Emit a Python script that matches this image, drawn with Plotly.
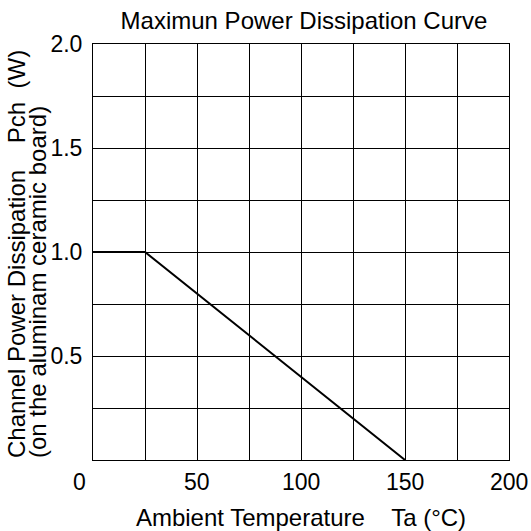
import plotly.graph_objects as go

# Data
temp_c = [0, 25, 150]
power_w = [1.0, 1.0, 0.0]

x_tick_vals = [0, 50, 100, 150, 200]
x_tick_text = ["0", "50", "100", "150", "200"]
y_tick_vals = [0.5, 1.0, 1.5, 2.0]
y_tick_text = ["0.5", "1.0", "1.5", "2.0"]

title_text = "Maximun Power Dissipation Curve"
x_title = "Ambient Temperature    Ta (°C)"
y_title_lines = ["Channel Power Dissipation    Pch  (W)", "(on the aluminam ceramic board)"]

FONT = "Liberation Sans, Arial, sans-serif"
FS = 24
TFS = 23
W = H = 531

fig = go.Figure()
fig.add_trace(go.Scatter(x=temp_c, y=power_w, mode="lines",
                         line=dict(color="black", width=2), showlegend=False,
                         cliponaxis=False, hoverinfo="skip"))

fig.update_layout(
    width=W, height=H,
    margin=dict(l=93, r=22, t=44, b=71, autoexpand=False),
    paper_bgcolor="white", plot_bgcolor="white",
    font=dict(family=FONT, size=FS, color="black"),
    title=dict(text=title_text, x=304 / W, xanchor="center",
               xref="container", y=1 - 21 / H, yanchor="middle", yref="container",
               font=dict(size=FS)),
)

fig.update_xaxes(
    range=[0, 200], tickvals=x_tick_vals, ticktext=["" for _ in x_tick_text],
    showgrid=True, gridcolor="black", gridwidth=1,
    minor=dict(tick0=0, dtick=25, showgrid=True, gridcolor="black", gridwidth=1),
    showline=True, linecolor="black", linewidth=1, mirror=True,
    ticks="", zeroline=False, fixedrange=True, automargin=False,
    title=dict(text=x_title, standoff=45, font=dict(size=FS)),
)
fig.update_yaxes(
    range=[0, 2.0], tickvals=y_tick_vals, ticktext=y_tick_text,
    tickfont=dict(size=TFS),
    showgrid=True, gridcolor="black", gridwidth=1,
    minor=dict(tick0=0, dtick=0.25, showgrid=True, gridcolor="black", gridwidth=1),
    showline=True, linecolor="black", linewidth=1, mirror=True,
    ticks="", ticklabelstandoff=5, zeroline=False, fixedrange=True, automargin=False,
)

# x tick labels as annotations (the "0" label sits left of the axis corner)
for v, t in zip(x_tick_vals, x_tick_text):
    fig.add_annotation(x=v, y=0, xref="x", yref="paper", text=t, showarrow=False,
                       xanchor="center", yanchor="middle", yshift=-22,
                       xshift=-14 if v == 0 else 0, font=dict(size=TFS))

# y axis title: two rotated lines, both starting at the bottom of the plot
for line, shift in zip(y_title_lines, [-77, -56]):
    fig.add_annotation(x=0, y=0, xref="paper", yref="paper", text=line, showarrow=False,
                       textangle=-90, xanchor="center", yanchor="bottom",
                       xshift=shift, yshift=0, font=dict(size=FS))

fig.write_html("out.html", config={"displayModeBar": False, "staticPlot": True},
               post_script="document.body.style.margin='0';")
